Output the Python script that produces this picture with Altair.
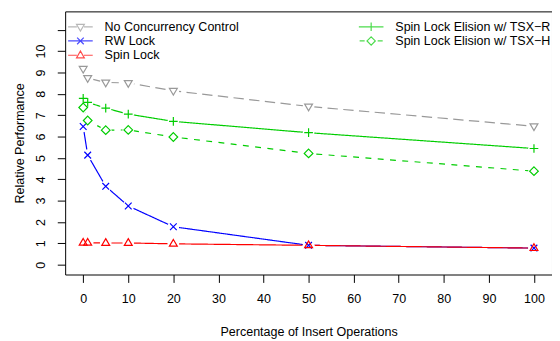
import altair as alt
import pandas as pd

# ---- data ----
pct_insert = [0, 1, 5, 10, 20, 50, 100]
series_names = [
    "No Concurrency Control",
    "RW Lock",
    "Spin Lock",
    "Spin Lock Elision w/ TSX\u2212R",
    "Spin Lock Elision w/ TSX\u2212H",
]
no_cc = [9.17, 8.74, 8.53, 8.51, 8.14, 7.41, 6.48]
rw_lock = [6.47, 5.13, 3.67, 2.75, 1.78, 0.91, 0.78]
spin_lock = [1.03, 1.03, 1.02, 1.02, 0.98, 0.91, 0.78]
tsx_r = [7.79, 7.60, 7.33, 7.05, 6.71, 6.18, 5.44]
tsx_h = [7.36, 6.75, 6.30, 6.31, 5.98, 5.21, 4.38]
y_ticks = list(range(0, 12))
x_ticks = list(range(0, 101, 10))

values = [no_cc, rw_lock, spin_lock, tsx_r, tsx_h]
rows = []
for name, vals in zip(series_names, values):
    for xv, yv in zip(pct_insert, vals):
        rows.append({"pct": xv, "perf": yv, "series": name})
df = pd.DataFrame(rows)

# ---- styles ----
colors = ["#999999", "#0000FF", "#FF0000", "#00CD00", "#00CD00"]
dashes = [[10.5, 5.5], [1, 0], [1, 0], [1, 0], [6, 6.5]]
marker_paths = [
    "M-1,-0.6L1,-0.6L0,1.1Z",                        # triangle down
    "M-0.85,-0.85L0.85,0.85M-0.85,0.85L0.85,-0.85",  # x
    "M0,-1.1L1,0.6L-1,0.6Z",                         # triangle up
    "M-1.1,0H1.1M0,-1.1V1.1",                        # plus
    "M0,-1.1L1.1,0L0,1.1L-1.1,0Z",                   # diamond
]
# legend glyphs: unit = 6px (symbolSize 144), line spans 25px
legend_paths = [
    "M-2.08,0H-0.6M0.6,0H2.08M-0.66,-0.4L0.66,-0.4L0,0.72Z",
    "M-2.08,0H2.08M-0.56,-0.56L0.56,0.56M-0.56,0.56L0.56,-0.56",
    "M-2.08,0H-0.6M0.6,0H2.08M0,-0.72L0.66,0.44L-0.66,0.44Z",
    "M-2.08,0H2.08M0,-0.72V0.72",
    "M-1.95,0H-1.1M1.1,0H1.95M0,-0.7L0.7,0L0,0.7L-0.7,0Z",
]

FONT = "Liberation Sans"
FS = 12.7

x_enc = alt.X(
    "pct:Q",
    scale=alt.Scale(domain=[-4, 104], nice=False, zero=False),
    axis=alt.Axis(values=x_ticks, title="Percentage of Insert Operations",
                  labelPadding=10, titlePadding=21),
)
y_enc = alt.Y(
    "perf:Q",
    scale=alt.Scale(domain=[-0.456, 11.856], nice=False, zero=False),
    axis=alt.Axis(values=y_ticks, title="Relative Performance",
                  labelExpr="datum.value == 11 ? '' : datum.label",
                  labelAngle=270, labelAlign="center", labelBaseline="bottom",
                  labelPadding=10, titlePadding=8),
)

color_scale = alt.Scale(domain=series_names, range=colors)

base = alt.Chart(df).encode(x=x_enc, y=y_enc)

lines = base.mark_line(strokeWidth=1.2).encode(
    color=alt.Color("series:N", scale=color_scale, legend=None),
    strokeDash=alt.StrokeDash("series:N", scale=alt.Scale(domain=series_names, range=dashes), legend=None),
    detail="series:N",
)

gaps = base.mark_point(filled=True, shape="circle", size=140, color="white", opacity=1, strokeWidth=0)

markers = base.mark_point(filled=False, size=64, strokeWidth=1.2, opacity=1).encode(
    color=alt.Color("series:N", scale=color_scale, legend=None),
    shape=alt.Shape("series:N", scale=alt.Scale(domain=series_names, range=marker_paths), legend=None),
)

legend_def = alt.Legend(
    title=None, orient="none", legendX=8.5, legendY=8.5, columns=2,
    symbolSize=144, symbolStrokeWidth=1.2,
    labelFontSize=FS, labelFont=FONT, labelColor="black", labelOffset=17.5,
    columnPadding=119, rowPadding=0.5, padding=0, symbolFillColor="transparent",
)
legend_layer = base.mark_point(filled=False, size=144, strokeWidth=1.2).encode(
    color=alt.Color("series:N", scale=color_scale, legend=legend_def),
    shape=alt.Shape("series:N", scale=alt.Scale(domain=series_names, range=legend_paths), legend=legend_def),
).transform_filter("false")

chart = alt.layer(lines, gaps, markers, legend_layer).resolve_scale(
    color="independent", shape="independent", strokeDash="independent"
).properties(
    width=494, height=267,
    padding={"left": 58, "top": 1, "right": 0, "bottom": 64},
    autosize=alt.AutoSizeParams(type="none"),
    background="white",
).configure_view(
    stroke="black", strokeWidth=1
).configure_axis(
    domain=False, grid=False, tickColor="black", tickSize=8, tickWidth=1,
    labelFont=FONT, labelFontSize=FS, labelColor="black",
    titleFont=FONT, titleFontSize=FS, titleColor="black", titleFontWeight="normal",
)

chart.save("out.html", embed_options={"renderer": "svg", "actions": False})
